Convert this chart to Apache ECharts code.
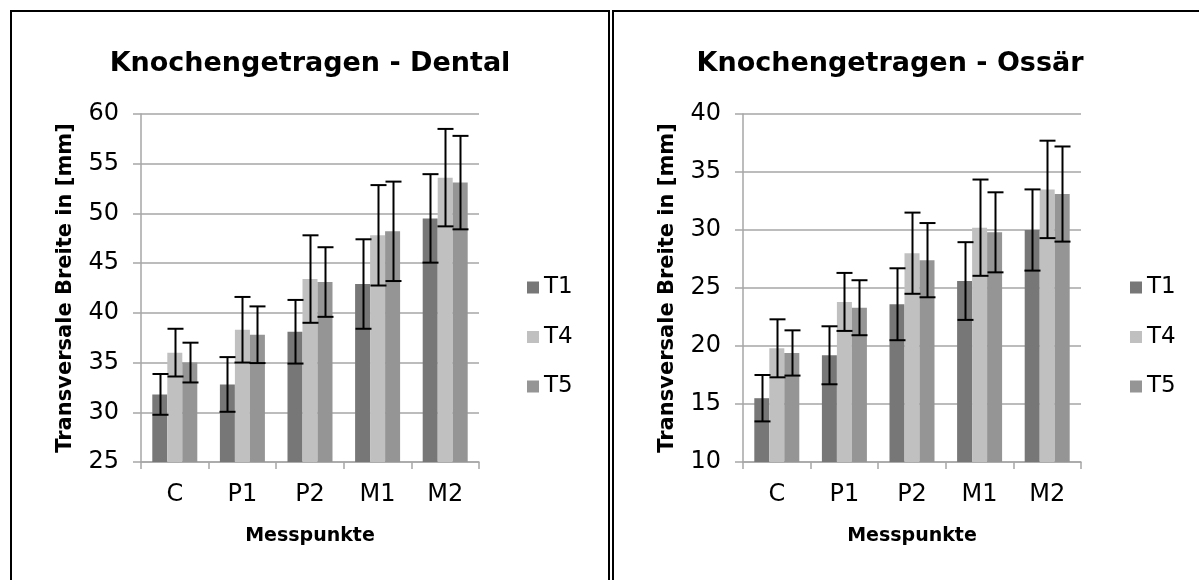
<!DOCTYPE html>
<html>
<head>
<meta charset="utf-8">
<style>
html,body{margin:0;padding:0;background:#fff;}
#chart{width:1199px;height:580px;}
</style>
<script src="https://cdn.jsdelivr.net/npm/echarts@6/dist/echarts.min.js"></script>
</head>
<body>
<div id="chart"></div>
<script>
// ---- data ----
var categories = ['C', 'P1', 'P2', 'M1', 'M2'];
var seriesNames = ['T1', 'T4', 'T5'];

var dentalT1 = [31.8, 32.8, 38.1, 42.9, 49.5];
var dentalT4 = [36.0, 38.3, 43.4, 47.8, 53.6];
var dentalT5 = [35.0, 37.8, 43.1, 48.2, 53.1];
var dentalT1Err = [2.05, 2.75, 3.2, 4.5, 4.45];
var dentalT4Err = [2.4, 3.3, 4.4, 5.05, 4.9];
var dentalT5Err = [2.0, 2.85, 3.5, 5.0, 4.7];

var ossarT1 = [15.5, 19.2, 23.6, 25.6, 30.0];
var ossarT4 = [19.8, 23.8, 28.0, 30.2, 33.5];
var ossarT5 = [19.4, 23.3, 27.4, 29.8, 33.1];
var ossarT1Err = [2.0, 2.5, 3.1, 3.35, 3.5];
var ossarT4Err = [2.5, 2.5, 3.5, 4.15, 4.2];
var ossarT5Err = [1.95, 2.37, 3.2, 3.45, 4.1];

var colors = ['#777777', '#c0c0c0', '#959595'];
var FONT = 'DejaVu Sans';
var BAR_W = 15;

var chart = echarts.init(document.getElementById('chart'), null, {renderer: 'canvas'});

function errSeries(gridIdx, sIdx, vals, errs) {
  return {
    type: 'custom',
    xAxisIndex: gridIdx,
    yAxisIndex: gridIdx,
    silent: true,
    z: 10,
    data: vals.map(function (v, i) { return [i, v, errs[i]]; }),
    renderItem: function (params, api) {
      var j = api.value(0), v = api.value(1), e = api.value(2);
      var top = api.coord([j, v + e]);
      var bot = api.coord([j, v - e]);
      var x = Math.round(top[0] + (sIdx - 1) * BAR_W) + 0.5;
      var half = 8;
      var st = {stroke: '#000', lineWidth: 2};
      return {
        type: 'group',
        children: [
          {type: 'line', shape: {x1: x, y1: top[1], x2: x, y2: bot[1]}, style: st},
          {type: 'line', shape: {x1: x - half, y1: top[1], x2: x + half, y2: top[1]}, style: st},
          {type: 'line', shape: {x1: x - half, y1: bot[1], x2: x + half, y2: bot[1]}, style: st}
        ]
      };
    }
  };
}

function barSeries(gridIdx, sIdx, vals) {
  return {
    type: 'bar',
    name: seriesNames[sIdx],
    xAxisIndex: gridIdx,
    yAxisIndex: gridIdx,
    barWidth: BAR_W,
    barGap: '0%',
    itemStyle: {color: colors[sIdx]},
    data: vals
  };
}

var gray = '#a6a6a6';

function xAxis(gridIdx) {
  return {
    type: 'category',
    gridIndex: gridIdx,
    data: categories,
    name: 'Messpunkte',
    nameLocation: 'middle',
    nameGap: 65,
    nameTextStyle: {fontFamily: FONT, fontWeight: 'bold', fontSize: 19, color: '#000'},
    axisLine: {lineStyle: {color: gray, width: 1.5}},
    axisTick: {show: true, length: 7, lineStyle: {color: gray, width: 1.5}},
    axisLabel: {fontFamily: FONT, fontSize: 24, color: '#000', margin: 21},
    splitLine: {show: false}
  };
}

function yAxis(gridIdx, min, max) {
  return {
    type: 'value',
    gridIndex: gridIdx,
    min: min,
    max: max,
    interval: 5,
    name: 'Transversale Breite in [mm]',
    nameLocation: 'middle',
    nameGap: 65,
    nameTextStyle: {fontFamily: FONT, fontWeight: 'bold', fontSize: 21, color: '#000'},
    axisLine: {show: true, lineStyle: {color: gray, width: 1.5}},
    axisTick: {show: true, length: 8, lineStyle: {color: gray, width: 1.5}},
    axisLabel: {fontFamily: FONT, fontSize: 24, color: '#000', margin: 22},
    splitLine: {show: true, lineStyle: {color: gray, width: 1.5}}
  };
}

function legend(left) {
  return {
    data: seriesNames,
    orient: 'vertical',
    left: left,
    top: 271,
    itemWidth: 12,
    itemHeight: 12,
    itemGap: 26.5,
    icon: 'rect',
    selectedMode: false,
    textStyle: {fontFamily: FONT, fontSize: 23, color: '#000', lineHeight: 22}
  };
}

var option = {
  animation: false,
  backgroundColor: '#fff',
  title: [
    {text: 'Knochengetragen - Dental', left: 305, top: 44, textAlign: 'center',
     textStyle: {fontFamily: FONT, fontWeight: 'bold', fontSize: 27, color: '#000', lineHeight: 30}},
    {text: 'Knochengetragen - Ossär', left: 885, top: 44, textAlign: 'center',
     textStyle: {fontFamily: FONT, fontWeight: 'bold', fontSize: 27, color: '#000', lineHeight: 30}}
  ],
  legend: [legend(522), legend(1125)],
  grid: [
    {left: 141, top: 114, width: 338, height: 348},
    {left: 743, top: 114, width: 338, height: 348}
  ],
  xAxis: [xAxis(0), xAxis(1)],
  yAxis: [yAxis(0, 25, 60), yAxis(1, 10, 40)],
  graphic: [
    {type: 'rect', shape: {x: 11, y: 11, width: 598, height: 620}, style: {fill: null, stroke: '#000', lineWidth: 2}, silent: true},
    {type: 'rect', shape: {x: 613, y: 11, width: 620, height: 620}, style: {fill: null, stroke: '#000', lineWidth: 2}, silent: true}
  ],
  series: [
    barSeries(0, 0, dentalT1), barSeries(0, 1, dentalT4), barSeries(0, 2, dentalT5),
    barSeries(1, 0, ossarT1), barSeries(1, 1, ossarT4), barSeries(1, 2, ossarT5),
    errSeries(0, 0, dentalT1, dentalT1Err), errSeries(0, 1, dentalT4, dentalT4Err), errSeries(0, 2, dentalT5, dentalT5Err),
    errSeries(1, 0, ossarT1, ossarT1Err), errSeries(1, 1, ossarT4, ossarT4Err), errSeries(1, 2, ossarT5, ossarT5Err)
  ]
};

chart.setOption(option);
</script>
</body>
</html>
